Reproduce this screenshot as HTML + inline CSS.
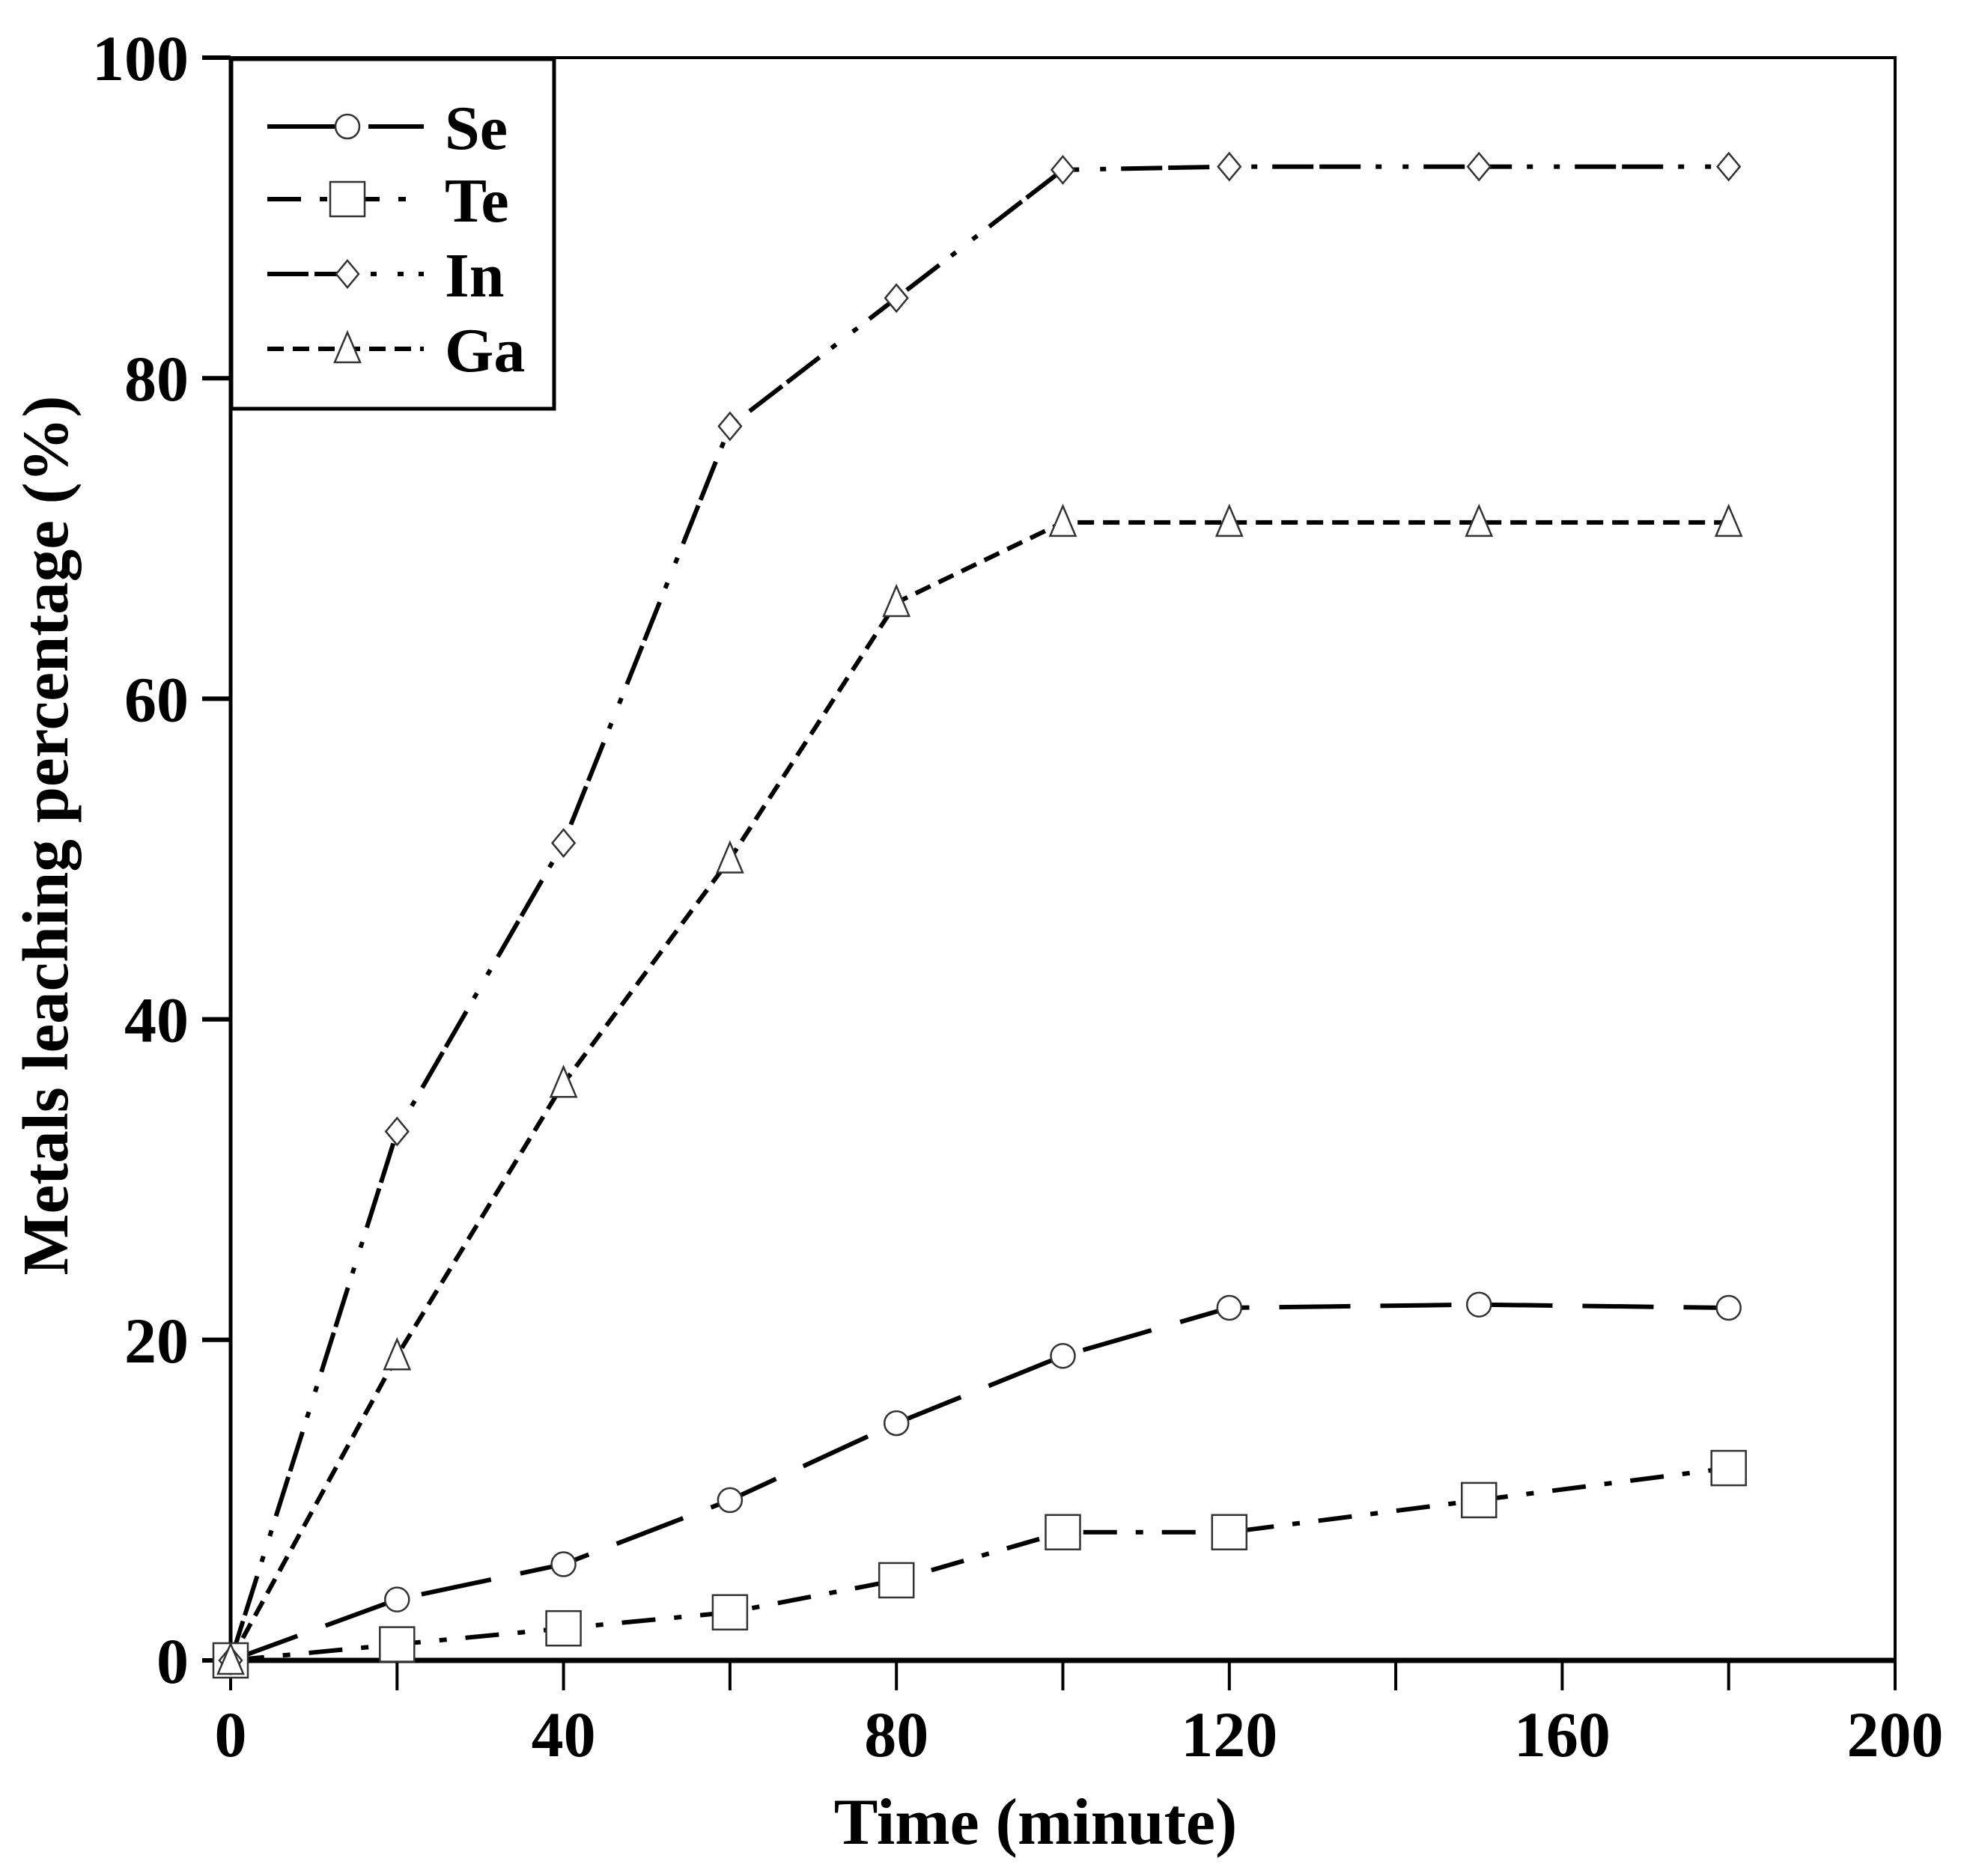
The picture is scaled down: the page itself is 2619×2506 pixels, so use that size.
<!DOCTYPE html>
<html><head><meta charset="utf-8"><style>
html,body{margin:0;padding:0;background:#fff;}
svg{display:block;font-family:"Liberation Serif",serif;font-weight:bold;}
</style></head><body>
<svg id="chart" width="2619" height="2506" viewBox="0 0 2619 2506" xmlns="http://www.w3.org/2000/svg">
<g id="axes"></g>
<g id="series"></g>
<g id="legend"></g>
<text x="1383" y="2463" font-size="88" text-anchor="middle">Time (minute)</text>
<text transform="translate(90,1116) rotate(-90)" font-size="87" text-anchor="middle">Metals leaching percentage (%)</text>
</svg>
<script>
const times = [0,20,40,60,80,100,120,150,180];
const seValues = [0,3.8,6,10,14.8,19,22,22.2,22];
const teValues = [0,1,2,3,5,8,8,10,12];
const inValues = [0,33,51,77,85,93,93.2,93.2,93.2];
const gaValues = [0,19,36,50,66,71,71,71,71];
const xTickLabels = ["0","40","80","120","160","200"];
const yTickLabels = ["0","20","40","60","80","100"];

const NS="http://www.w3.org/2000/svg";
const X0=308,X1=2531,Y0=2218,Y1=77;
function xs(v){return X0+(v/200)*(X1-X0);}
function ys(v){return Y0-(v/100)*(Y0-Y1);}
function mk(tag,attrs,parent){const e=document.createElementNS(NS,tag);for(const k in attrs)e.setAttribute(k,attrs[k]);parent.appendChild(e);return e;}

const axes=document.getElementById('axes');
let f=mk('rect',{x:X0,y:Y1,width:X1-X0,height:Y0-Y1,fill:'none',stroke:'#000','stroke-width':4},axes);


let xl=mk('line',{x1:X0-20,y1:Y0,x2:X1,y2:Y0,stroke:'#000','stroke-width':7},axes);


let yl=mk('line',{x1:X0,y1:Y0,x2:X0,y2:Y1,stroke:'#000','stroke-width':5},axes);


for(let v=0;v<=200;v+=20){
  let t=mk('line',{x1:xs(v),y1:Y0,x2:xs(v),y2:Y0+40,stroke:'#000','stroke-width':4},axes);
  
  
}
xTickLabels.forEach(l=>{
  let t=mk('text',{x:xs(+l),y:Y0+128,'font-size':86,'text-anchor':'middle'},axes);
  t.textContent=l;
  
  
});
yTickLabels.forEach(l=>{
  let t=mk('line',{x1:X0-38,y1:ys(+l),x2:X0,y2:ys(+l),stroke:'#000','stroke-width':6},axes);
  
  
  let tx=mk('text',{x:252,y:ys(+l)+30,'font-size':86,'text-anchor':'end'},axes);
  tx.textContent=l;
  
  
});

const seriesG=document.getElementById('series');
const defs=[
 {name:'se',vals:seValues,dash:'95 40',marker:'circle'},
 {name:'te',vals:teValues,dash:'45 25 10 25',marker:'square'},
 {name:'in',vals:inValues,dash:'55 8 55 20 8 28 8 20',marker:'diamond'},
 {name:'ga',vals:gaValues,dash:'22 12',marker:'triangle'}
];
function marker(type,cx,cy,parent){
  let e;
  if(type==='circle') e=mk('circle',{cx:cx,cy:cy,r:16},parent);
  else if(type==='square') e=mk('rect',{x:cx-23,y:cy-23,width:46,height:46},parent);
  else if(type==='diamond') e=mk('polygon',{points:`${cx},${cy-18} ${cx+15},${cy} ${cx},${cy+18} ${cx-15},${cy}`},parent);
  else e=mk('polygon',{points:`${cx},${cy-22} ${cx+17},${cy+18} ${cx-17},${cy+18}`},parent);
  e.setAttribute('fill','#fff');e.setAttribute('stroke','#333');e.setAttribute('stroke-width',2.5);
  return e;
}
defs.forEach(d=>{
  const pts=times.map((t,i)=>xs(t)+','+ys(d.vals[i])).join(' ');
  let pl=mk('polyline',{points:pts,fill:'none',stroke:'#000','stroke-width':6,'stroke-dasharray':d.dash},seriesG);
  
  
});
defs.forEach(d=>{
  times.forEach((t,i)=>{
    let m=marker(d.marker,xs(t),ys(d.vals[i]),seriesG);
    
    
  });
});

const lg=document.getElementById('legend');
let box=mk('rect',{x:309,y:79,width:431,height:467,fill:'#fff',stroke:'#000','stroke-width':5},lg);


const labels=['Se','Te','In','Ga'];
const rowsY=[169,266,366,466];
defs.forEach((d,i)=>{
  let ln=mk('line',{x1:357,y1:rowsY[i],x2:566,y2:rowsY[i],stroke:'#000','stroke-width':6,'stroke-dasharray':d.dash},lg);
  
  
  let m=marker(d.marker,464,rowsY[i],lg);
  
  
  let t=mk('text',{x:594,y:rowsY[i]+30,'font-size':84},lg);
  t.textContent=labels[i];
  
  
});
</script>
</body></html>
